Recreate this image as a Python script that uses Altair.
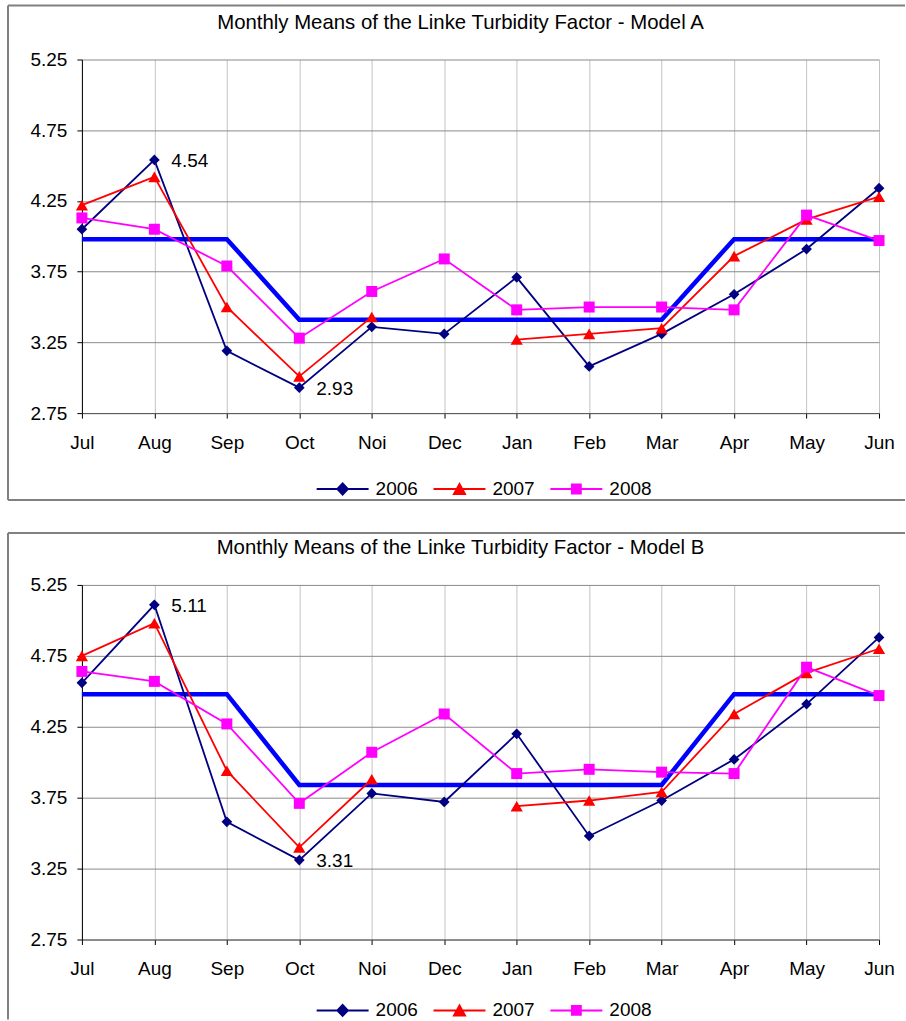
import altair as alt
import pandas as pd

months = ["Jul", "Aug", "Sep", "Oct", "Noi", "Dec", "Jan", "Feb", "Mar", "Apr", "May", "Jun"]
years = ["2006", "2007", "2008"]
colors = ["#000080", "#FF0000", "#FF00FF"]
point_shapes = ["diamond", "triangle-up", "square"]
point_sizes = [115, 150, 121]
y_ticks = [2.75, 3.25, 3.75, 4.25, 4.75, 5.25]

# Model A
a_title = "Monthly Means of the Linke Turbidity Factor - Model A"
a_2006 = [4.05, 4.54, 3.19, 2.93, 3.36, 3.31, 3.71, 3.08, 3.31, 3.59, 3.91, 4.34]
a_2007 = [4.22, 4.42, 3.50, 3.01, 3.43, None, 3.27, 3.31, 3.35, 3.86, 4.12, 4.28]
a_2008 = [4.13, 4.05, 3.79, 3.28, 3.61, 3.84, 3.48, 3.50, 3.50, 3.48, 4.15, 3.97]
a_model = [3.98, 3.98, 3.98, 3.41, 3.41, 3.41, 3.41, 3.41, 3.41, 3.98, 3.98, 3.98]
a_annot = ["Aug", "Oct"]

# Model B
b_title = "Monthly Means of the Linke Turbidity Factor - Model B"
b_2006 = [4.56, 5.11, 3.58, 3.31, 3.78, 3.72, 4.20, 3.48, 3.73, 4.02, 4.41, 4.88]
b_2007 = [4.75, 4.98, 3.94, 3.40, 3.88, None, 3.69, 3.73, 3.79, 4.34, 4.63, 4.80]
b_2008 = [4.64, 4.57, 4.27, 3.71, 4.07, 4.34, 3.92, 3.95, 3.93, 3.92, 4.67, 4.47]
b_model = [4.48, 4.48, 4.48, 3.84, 3.84, 3.84, 3.84, 3.84, 3.84, 4.48, 4.48, 4.48]
b_annot = ["Aug", "Oct"]

FONT = "Liberation Sans"
W = 798

legend_paths = [
    "M-1,0L1,0M-0.2,0L0,-0.21L0.2,0L0,0.21Z",
    "M-1,0L1,0M0,-0.19L0.21,0.19L-0.21,0.19Z",
    "M-1,0L1,0M-0.17,-0.17L0.17,-0.17L0.17,0.17L-0.17,0.17Z",
]


def series_frame(vals, year):
    rows = []
    seg = 0
    for m, v in zip(months, vals):
        if v is None:
            seg += 1
            continue
        rows.append({"month": m, "value": v, "year": year, "seg": seg})
    return pd.DataFrame(rows)


def panel(title, s06, s07, s08, model, annot, H, frame_top, frame_bottom, closed, title_y, legend_y):
    x_enc = alt.X(
        "month:N", sort=months,
        scale=alt.Scale(type="point", padding=0),
        axis=alt.Axis(title=None, labelAngle=0, labelFont=FONT, labelFontSize=19,
                      labelColor="#000", labelPadding=15, tickSize=5, tickColor="#000",
                      domainColor="#555", grid=True, gridColor="#c4c4c4", gridWidth=1),
    )
    y_enc = alt.Y(
        "value:Q",
        scale=alt.Scale(domain=[2.75, 5.25], nice=False, zero=False),
        axis=alt.Axis(title=None, values=y_ticks, format=".2f", labelFont=FONT,
                      labelFontSize=19, labelColor="#000", labelPadding=10, tickSize=5,
                      tickColor="#000", domainColor="#000", grid=True,
                      gridColor="#8a8a8a", gridWidth=1),
    )

    layers = []
    mdf = pd.DataFrame({"month": months, "value": model})
    layers.append(alt.Chart(mdf).mark_line(color="#0000FF", strokeWidth=4.5).encode(x=x_enc, y=y_enc))

    for vals, yr, col, shp, sz in zip([s06, s07, s08], years, colors, point_shapes, point_sizes):
        df = series_frame(vals, yr)
        base = alt.Chart(df)
        layers.append(base.mark_line(color=col, strokeWidth=1.8).encode(x=x_enc, y=y_enc, detail="seg:N"))
        layers.append(base.mark_point(shape=shp, size=sz, filled=True, color=col, opacity=1).encode(x=x_enc, y=y_enc))

    adf = series_frame(s06, "2006")
    adf = adf[adf["month"].isin(annot)]
    layers.append(
        alt.Chart(adf).mark_text(align="left", baseline="middle", dx=17, dy=1, font=FONT,
                                 fontSize=19, color="#000").encode(
            x=x_enc, y=y_enc, text=alt.Text("value:Q", format=".2f"))
    )

    leg = alt.Legend(title=None, orient="none", legendX=234, legendY=legend_y,
                     direction="horizontal", symbolSize=2704, symbolStrokeWidth=2,
                     labelFont=FONT, labelFontSize=19, labelColor="#000", labelOffset=6,
                     columnPadding=11, padding=0)
    ldf = pd.DataFrame({"year": years})
    layers.append(
        alt.Chart(ldf).mark_point(filled=True, strokeWidth=2, opacity=1).encode(
            x=x_enc, y=y_enc,
            fill=alt.Fill("year:N", scale=alt.Scale(domain=years, range=colors), legend=leg),
            stroke=alt.Stroke("year:N", scale=alt.Scale(domain=years, range=colors), legend=leg),
            shape=alt.Shape("year:N", scale=alt.Scale(domain=years, range=legend_paths), legend=leg),
        ).transform_calculate(value="0").transform_filter("false")
    )

    one = alt.Data(values=[{}])
    # chart title
    layers.append(alt.Chart(one).mark_text(
        text=title, font=FONT, fontSize=20.4, color="#000", align="center", baseline="alphabetic"
    ).encode(x=alt.value(379), y=alt.value(title_y)))

    # outer frame
    fr = dict(color="#808080", strokeWidth=2)
    layers.append(alt.Chart(one).mark_rule(**fr).encode(
        x=alt.value(-74), x2=alt.value(W + 26), y=alt.value(frame_top)))
    layers.append(alt.Chart(one).mark_rule(**fr).encode(
        x=alt.value(-74), y=alt.value(frame_top), y2=alt.value(frame_bottom)))
    if closed:
        layers.append(alt.Chart(one).mark_rule(**fr).encode(
            x=alt.value(-74), x2=alt.value(W + 26), y=alt.value(frame_bottom)))

    return alt.layer(*layers).properties(width=W, height=H).resolve_scale(
        fill="independent", stroke="independent", shape="independent")


top = panel(a_title, a_2006, a_2007, a_2008, a_model, a_annot, 354, -54, 441, True, -31, 403)
bottom = panel(b_title, b_2006, b_2007, b_2008, b_model, b_annot, 355, -52, 435, False, -31, 399)

chart = alt.vconcat(top, bottom, spacing=31).resolve_scale(
    fill="independent", stroke="independent", shape="independent"
).resolve_legend(
    fill="independent", stroke="independent", shape="independent"
).properties(
    padding={"left": 7, "top": 4, "right": 0, "bottom": 0},
    background="white",
).configure_view(stroke=None)

chart.save("out.html", embed_options={"renderer": "svg", "actions": False})
